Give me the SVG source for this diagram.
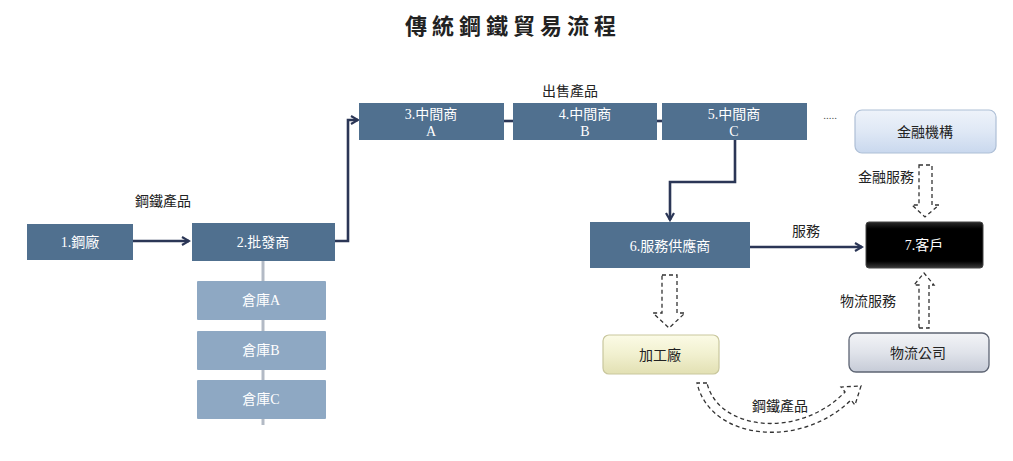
<svg xmlns="http://www.w3.org/2000/svg" width="1013" height="461" viewBox="0 0 1013 461">
<defs>
<marker id="arr" markerWidth="10" markerHeight="10" refX="8" refY="5" orient="auto" markerUnits="userSpaceOnUse">
<path d="M1,1 L8,5 L1,9" fill="none" stroke="#2b3656" stroke-width="2.2"/>
</marker>
<linearGradient id="gFin" x1="0" y1="0" x2="0" y2="1">
<stop offset="0" stop-color="#eef3fa"/><stop offset="0.5" stop-color="#dfe8f5"/><stop offset="1" stop-color="#c9d8ee"/>
</linearGradient>
<linearGradient id="gLog" x1="0" y1="0" x2="0" y2="1">
<stop offset="0" stop-color="#f3f4f7"/><stop offset="0.5" stop-color="#e0e3ea"/><stop offset="1" stop-color="#c6cbd7"/>
</linearGradient>
<linearGradient id="gFac" x1="0" y1="0" x2="0" y2="1">
<stop offset="0" stop-color="#fbfbe6"/><stop offset="0.5" stop-color="#f1f0cf"/><stop offset="1" stop-color="#e2e0b3"/>
</linearGradient>
<linearGradient id="gBlk" x1="0" y1="0" x2="0" y2="1">
<stop offset="0" stop-color="#2a2a2a"/><stop offset="0.15" stop-color="#000"/><stop offset="0.85" stop-color="#000"/><stop offset="1" stop-color="#3a3a3a"/>
</linearGradient>
</defs>
<style>
.dark{fill:#50708f}
.wh{fill:#8ea8c3}
.wt{font-family:"Liberation Serif","Noto Sans CJK TC",serif;font-size:14px;fill:#fff;text-anchor:middle}
.bt{font-family:"Liberation Serif","Noto Sans CJK TC",serif;font-size:14px;fill:#222;text-anchor:middle}
.lb{font-family:"Liberation Serif","Noto Sans CJK TC",serif;font-size:14px;fill:#222;text-anchor:middle}
.con{fill:none;stroke:#2b3656;stroke-width:2.6}
.dash{fill:#fff;stroke:#333;stroke-width:1.3;stroke-dasharray:4 3}
</style>
<rect width="1013" height="461" fill="#fff"/>
<text x="513" y="34" text-anchor="middle" font-family="'Noto Sans CJK TC','Noto Sans CJK SC',sans-serif" font-size="22" font-weight="bold" letter-spacing="5" fill="#222">傳統鋼鐵貿易流程</text>

<g id="connectors">
<line x1="263" y1="261" x2="263" y2="425" stroke="#b3bac5" stroke-width="3"/>
<line class="con" x1="133" y1="241" x2="189" y2="241" marker-end="url(#arr)"/>
<polyline class="con" points="335,241 348,241 348,120 358,120" marker-end="url(#arr)"/>
<line class="con" x1="504" y1="121" x2="513" y2="121"/>
<line class="con" x1="657" y1="121" x2="662" y2="121"/>
<polyline class="con" points="735,140 735,182 670,182 670,220" marker-end="url(#arr)"/>
<line class="con" x1="750" y1="247" x2="862" y2="247" marker-end="url(#arr)"/>
<path class="dash" d="M662,275 L677,275 L677,313 L685,313 L669,328 L653,313 L662,313 Z"/>
<path class="dash" d="M919,165 L932,165 L932,205 L939,205 L925,217 L912,205 L919,205 Z"/>
<path class="dash" d="M919,328 L929,328 L929,285 L934,285 L924,273 L914,285 L919,285 Z"/>
<path class="dash" d="M707,383 L697,383 C710,440 800,450 851,400 L855,405 L861,386 L841,387 L845,392 C798,440 718,430 707,383 Z"/>
<text class="lb" x="163" y="206">鋼鐵產品</text>
<text class="lb" x="570" y="96">出售產品</text>
<text class="lb" x="806" y="236">服務</text>
<text class="lb" x="886" y="182">金融服務</text>
<text class="lb" x="868" y="306">物流服務</text>
<text class="lb" x="780" y="411">鋼鐵產品</text>
<text x="830" y="119" text-anchor="middle" font-family="'Liberation Serif',serif" font-size="11" fill="#555">.....</text>
</g>

<g id="n1"><rect class="dark" x="27" y="224" width="106" height="36"/><text class="wt" x="80" y="247">1.鋼廠</text></g>
<g id="n2"><rect class="dark" x="192" y="223" width="143" height="38"/><text class="wt" x="263" y="247">2.批發商</text></g>
<g id="wA"><rect class="wh" x="197" y="281" width="129" height="39" rx="1"/><text class="wt" x="261" y="305" font-size="13">倉庫A</text></g>
<g id="wB"><rect class="wh" x="197" y="331" width="129" height="39" rx="1"/><text class="wt" x="261" y="355" font-size="13">倉庫B</text></g>
<g id="wC"><rect class="wh" x="197" y="380" width="129" height="39" rx="1"/><text class="wt" x="261" y="404" font-size="13">倉庫C</text></g>
<g id="n3"><rect class="dark" x="359" y="103" width="145" height="37"/><text class="wt" x="431" y="119">3.中間商</text><text class="wt" x="431" y="136">A</text></g>
<g id="n4"><rect class="dark" x="513" y="103" width="144" height="37"/><text class="wt" x="585" y="119">4.中間商</text><text class="wt" x="585" y="136">B</text></g>
<g id="n5"><rect class="dark" x="662" y="103" width="145" height="37"/><text class="wt" x="734" y="119">5.中間商</text><text class="wt" x="734" y="136">C</text></g>
<g id="n6"><rect class="dark" x="590" y="222" width="160" height="46"/><text class="wt" x="670" y="251">6.服務供應商</text></g>
<g id="n7"><rect x="866" y="222" width="117" height="46" rx="3" fill="url(#gBlk)" stroke="#444" stroke-width="1"/><text class="wt" x="924" y="250">7.客戶</text></g>
<g id="fin"><rect x="855" y="110" width="141" height="43" rx="7" fill="url(#gFin)" stroke="#aebfd6" stroke-width="1.2"/><text class="bt" x="925" y="137">金融機構</text></g>
<g id="log"><rect x="849" y="333" width="140" height="39" rx="7" fill="url(#gLog)" stroke="#5d6473" stroke-width="1.3"/><text class="bt" x="918" y="358">物流公司</text></g>
<g id="fac"><rect x="603" y="335" width="116" height="39" rx="6" fill="url(#gFac)" stroke="#c9c79d" stroke-width="1.2"/><text class="bt" x="660" y="360">加工廠</text></g>
</svg>
